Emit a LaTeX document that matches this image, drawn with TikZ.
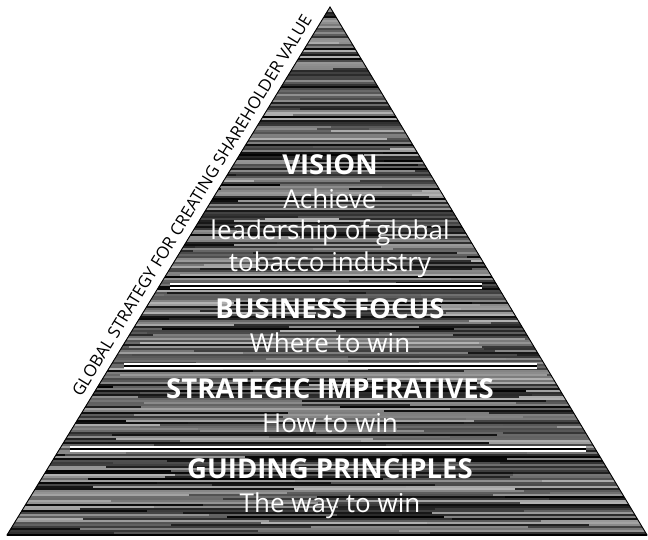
\documentclass[tikz,border=0pt]{standalone}
\usepackage{fontspec}
\setmainfont{Open Sans}
\usetikzlibrary{positioning,calc}
\definecolor{scanbg}{gray}{0.3}

\begin{document}
\begin{tikzpicture}[x=1pt,y=-1pt,
  head/.style={font=\fontsize{27.5}{29}\selectfont\bfseries,text=white,
    inner sep=0pt,text height=18pt,text depth=0pt},
  sub/.style={font=\fontsize{26}{28}\selectfont,text=white,
    inner sep=0pt,text height=18pt,text depth=6pt},
  divider/.style={line width=1.6pt,black,preaction={draw=white,line width=5.5pt}},
  edge/.style={black,line width=0.9pt}
]
  \useasboundingbox[fill=white] (0,0) rectangle (648,540);

  \coordinate (apex) at (330,7);
  \coordinate (bl) at (7,535);
  \coordinate (br) at (647,535);

  % scanned texture
  \begin{scope}
    \clip (apex) -- (br) -- (bl) -- cycle;
    \fill[scanbg] (0,0) rectangle (648,540);
    \pgfmathsetseed{11}
    \foreach \row in {7,9,...,537}{
      \pgfmathsetmacro\ga{int(30+70*rnd)}
      \pgfmathsetmacro\gb{int(30+70*rnd)}
      \pgfmathsetmacro\gc{int(30+70*rnd)}
      \pgfmathsetmacro\cuta{int(60+260*rnd)}
      \pgfmathsetmacro\cutb{int(330+260*rnd)}
      \draw[black!\ga,line width=2.1pt] (0,\row) -- (\cuta,\row);
      \draw[black!\gb,line width=2.1pt] (\cuta,\row) -- (\cutb,\row);
      \draw[black!\gc,line width=2.1pt] (\cutb,\row) -- (648,\row);
    }
  \end{scope}

  \draw[edge] (apex) -- (br) -- (bl) -- cycle;
  \draw[black,line width=2pt] (bl) -- (br);

  % dividers
  \coordinate (d1l) at (170,286);
  \coordinate (d1r) at (482,286);
  \coordinate (d2l) at (124,366);
  \coordinate (d2r) at (537,366);
  \coordinate (d3l) at (70,449);
  \coordinate (d3r) at (586,449);
  \draw[divider] (d1l) -- (d1r);
  \draw[divider] (d2l) -- (d2r);
  \draw[divider] (d3l) -- (d3r);

  % tiers
  \node[head,anchor=south] (vision) at (330,175) {VISION};
  \node[sub,below=15pt of vision] (achieve) {Achieve};
  \node[sub,below=7pt of achieve] (leader) {leadership of global};
  \node[sub,below=7pt of leader] (tobacco) {tobacco industry};

  \node[head,anchor=south] (focus) at (330,319) {BUSINESS FOCUS};
  \node[sub,below=15pt of focus] (where) {Where to win};

  \node[head,anchor=south] (imper) at (330,399) {STRATEGIC IMPERATIVES};
  \node[sub,below=15pt of imper] (how) {How to win};

  \node[head,anchor=south] (guide) at (330,479) {GUIDING PRINCIPLES};
  \node[sub,below=15pt of guide] (way) {The way to win};

  % side caption
  \path (bl) -- (apex) node[pos=0.61,sloped,above=8pt,inner sep=0pt,
    font=\fontsize{16.8}{17}\selectfont] (strategy)
    {GLOBAL STRATEGY FOR CREATING SHAREHOLDER VALUE};
\end{tikzpicture}
\end{document}
